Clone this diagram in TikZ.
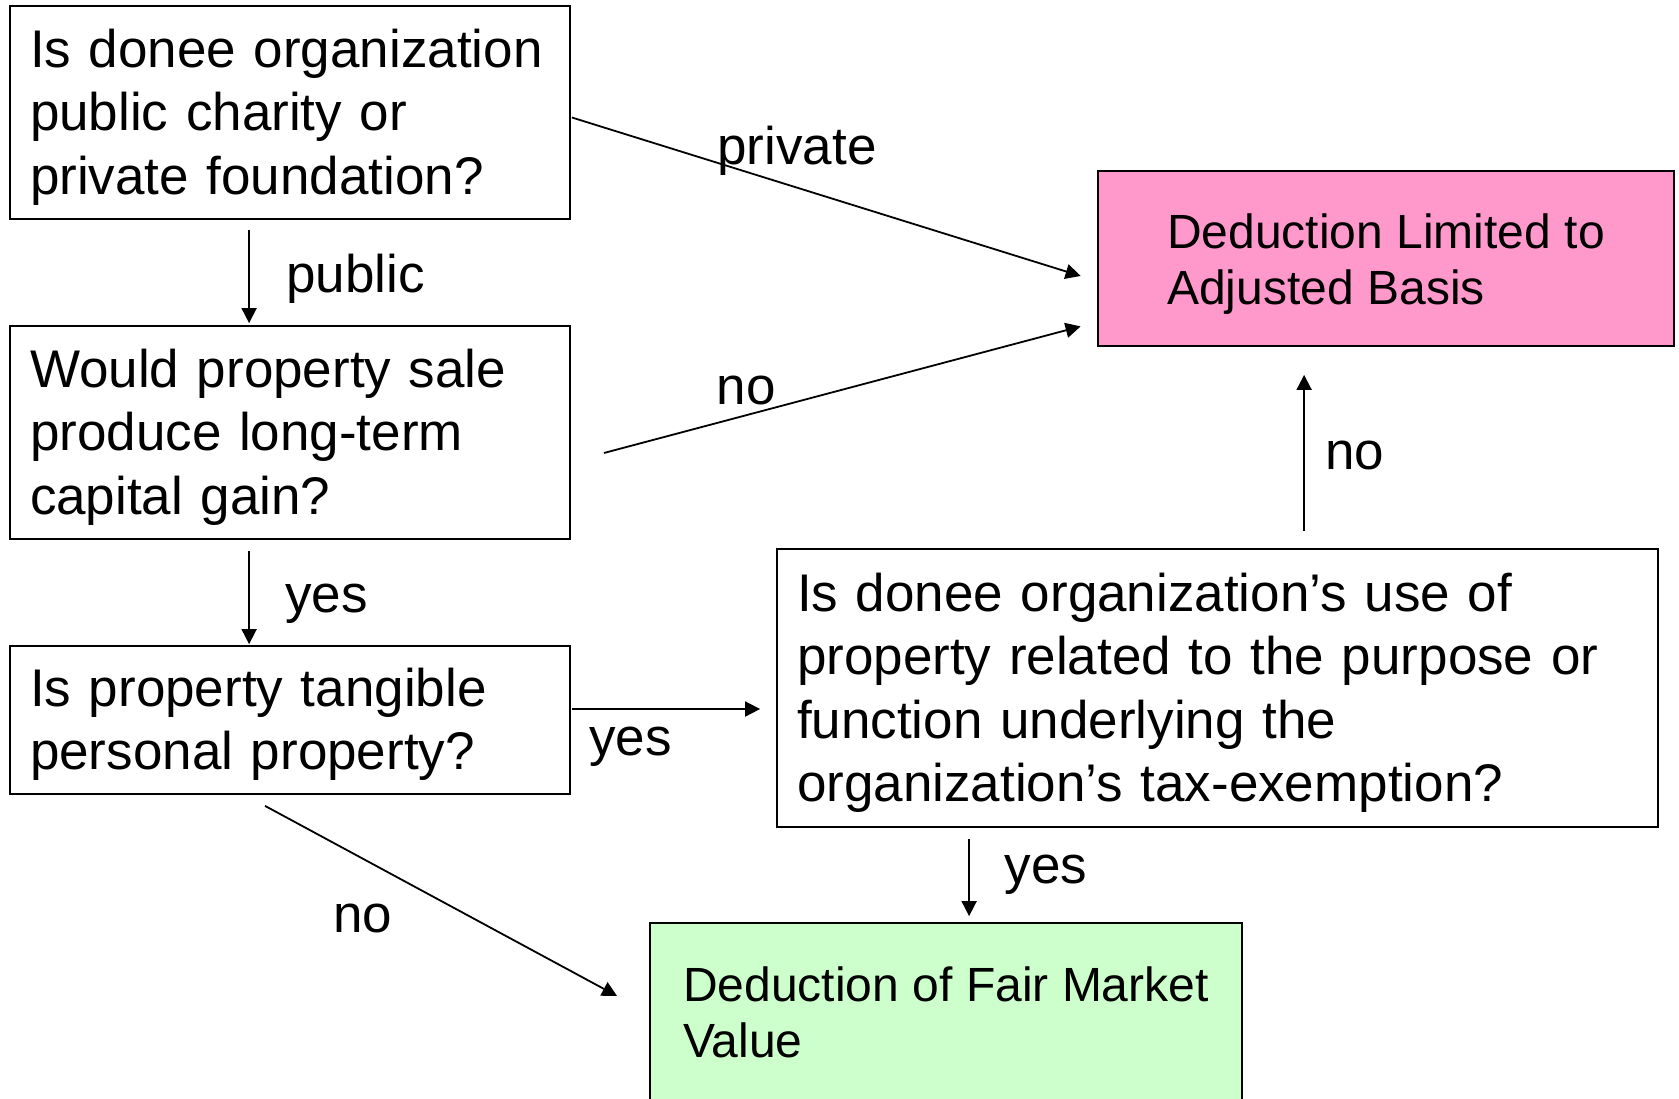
\documentclass[tikz,border=0pt]{standalone}
\usepackage{fontspec}
\setmainfont{Liberation Sans}
\usetikzlibrary{arrows.meta}
\definecolor{limpink}{HTML}{FF99CC}
\definecolor{fmvgreen}{HTML}{CCFFCC}
% taller first line, so that the text sits a little lower in its box
\newcommand\pushdown[1]{\rule{0pt}{\dimexpr\fontcharht\font`d+#1\relax}}

\begin{document}
\begin{tikzpicture}[x=0.5pt,y=-0.5pt,
  box/.style={draw,line width=0.9pt,inner xsep=10pt,inner ysep=0pt,align=left,
    font=\fontsize{26.5}{31.75}\selectfont},
  result/.style={draw,line width=0.9pt,inner sep=0pt,align=left,
    font=\fontsize{24}{28}\selectfont},
  arr/.style={-{Triangle[length=7.5pt,width=7.5pt]},line width=0.9pt},
  lbl/.style={font=\fontsize{26.5}{31.75}\selectfont,inner sep=0pt}]
\useasboundingbox (0,0) rectangle (1679,1098);

% nodes
\node (q1) [box,text width=260pt,minimum width=280pt,minimum height=106.5pt] at (290,112.5)
  {\pushdown{5.5pt}Is donee organization\\public charity or\\private foundation?};
\node (q2) [box,text width=260pt,minimum width=280pt,minimum height=106.5pt] at (290,432.5)
  {\pushdown{5.5pt}Would property sale\\produce long-term\\capital gain?};
\node (q3) [box,text width=260pt,minimum width=280pt,minimum height=74pt] at (290,720)
  {\pushdown{5.5pt}Is property tangible\\personal property?};
\node (use) [box,text width=420.5pt,minimum width=440.5pt,minimum height=139pt] at (1217.5,688)
  {\pushdown{6pt}Is donee organization’s use of\\property related to the purpose or\\function underlying the\\organization’s tax-exemption?};
\node (lim) [result,fill=limpink,minimum width=288pt,minimum height=87.5pt] at (1386,258.5)
  {\pushdown{6pt}Deduction Limited to\\Adjusted Basis};
\node (fmv) [result,fill=fmvgreen,minimum width=296pt,minimum height=89.5pt] at (946,1012.5)
  {Deduction of Fair Market\\Value};

% labels
\node (lpriv) [lbl] at (797,150.5) {private};
\node (lpub) [lbl] at (355.5,278.5) {public};
\node (lno1) [lbl] at (746,390) {no};
\node (lyes1) [lbl] at (326.5,603.5) {yes};
\node (lyes2) [lbl] at (630.5,747) {yes};
\node (lno2) [lbl] at (363,918) {no};
\node (lyes3) [lbl] at (1046,874.5) {yes};
\node (lno3) [lbl] at (1354.5,455) {no};

% arrows
\draw[arr] ([shift={(240,10)}]q1.south west) -- ([shift={(240,-2)}]q2.north west);
\draw[arr] ([shift={(240,11)}]q2.south west) -- ([shift={(240,-1)}]q3.north west);
\draw[arr] ([shift={(1,5)}]q1.east) -- ([shift={(-16.5,17.5)}]lim.west);
\draw[arr] ([shift={(33,20.5)}]q2.east) -- ([shift={(-16.5,-20.5)}]lim.south west);
\draw[arr] ([shift={(1,-11)}]q3.east) -- ([shift={(-16,21)}]use.west);
\draw[arr] ([shift={(256,11)}]q3.south west) -- ([shift={(-32,-16.5)}]fmv.west);
\draw[arr] ([shift={(193,11)}]use.south west) -- ([shift={(320,-6)}]fmv.north west);
\draw[arr] ([shift={(528,-17)}]use.north west) -- ([shift={(207,28)}]lim.south west);
\end{tikzpicture}
\end{document}
